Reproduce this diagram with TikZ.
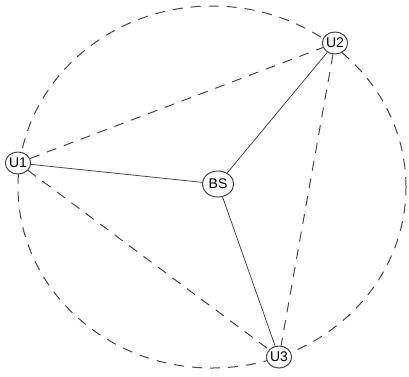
\documentclass[tikz,border=0pt]{standalone}
\usepackage{fontspec}
\setmainfont{Liberation Sans}
\usepackage{tikz}
\usetikzlibrary{shapes.geometric}
\definecolor{lngray}{HTML}{4A4A4A}

\begin{document}
\begin{tikzpicture}[x=0.75pt, y=-0.75pt, font=\fontsize{10.5}{12}\selectfont,
    usr/.style={ellipse, draw=lngray, fill=white, line width=0.75pt,
      minimum width=18.5pt, minimum height=16.5pt, inner sep=0pt},
    base/.style={usr, minimum width=23.5pt, minimum height=19.5pt},
    link/.style={lngray, line width=0.6pt},
    dlink/.style={lngray, line width=0.75pt, dash pattern=on 7.5pt off 6pt}]
    \useasboundingbox (0,0) rectangle (409,376);
    % circulo tracejado
    \draw[dlink] (212,187) ellipse [x radius=145.5pt, y radius=135.75pt];
    % nos
    \node[usr] (u1) at (18,163) {U1};
    \node[usr] (u2) at (335,43) {U2};
    \node[usr] (u3) at (279,357) {U3};
    \node[base] (bs) at (218,184) {BS};
    % enlaces
    \draw[link] (bs) -- (u1);
    \draw[link] (bs) -- (u2);
    \draw[link] (bs) -- (u3);
    \draw[dlink] (u1) -- (u2);
    \draw[dlink] (u1) -- (u3);
    \draw[dlink] (u2) -- (u3);
  \end{tikzpicture}
\end{document}
